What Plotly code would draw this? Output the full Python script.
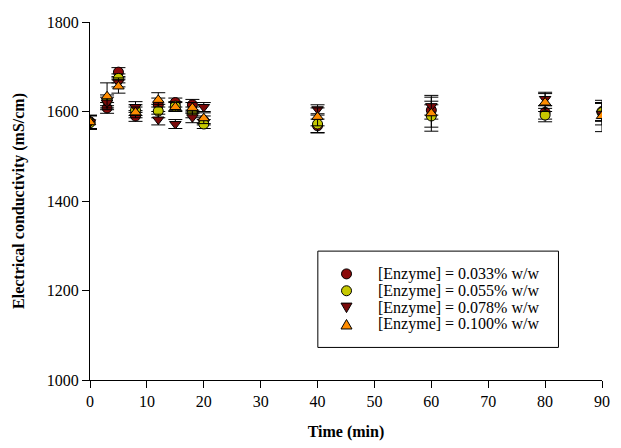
import plotly.graph_objects as go

time_min = [0, 3, 5, 8, 12, 15, 18, 20, 40, 60, 80, 90]

names = ["[Enzyme] = 0.033% w/w", "[Enzyme] = 0.055% w/w",
         "[Enzyme] = 0.078% w/w", "[Enzyme] = 0.100% w/w"]

ec_033 = [1577, 1608, 1688, 1590, 1615, 1620, 1615, 1580, 1568, 1603, 1598, 1600]
ec_055 = [1575, 1625, 1674, 1603, 1601, 1612, 1598, 1572, 1572, 1590, 1592, 1598]
ec_078 = [1576, 1620, 1665, 1610, 1582, 1572, 1587, 1610, 1605, 1612, 1628, 1595]
ec_100 = [1576, 1634, 1656, 1598, 1626, 1610, 1608, 1585, 1588, 1596, 1620, 1590]

err_033 = [15, 12, 10, 12, 15, 10, 12, 10, 15, 20, 15, 20]
err_055 = [15, 12, 10, 12, 15, 10, 12, 10, 20, 25, 15, 20]
err_078 = [15, 12, 10, 12, 12, 10, 12, 10, 10, 20, 15, 25]
err_100 = [15, 30, 15, 12, 16, 10, 12, 12, 20, 40, 20, 35]

series = [ec_033, ec_055, ec_078, ec_100]
errors = [err_033, err_055, err_078, err_100]
symbols = ["circle", "circle", "triangle-down", "triangle-up"]
colors = ["#8B0A0A", "#C6C800", "#7A0A0A", "#FF8C00"]

font_family = "Liberation Serif, Times New Roman, serif"

fig = go.Figure()
for nm, ys, es, sym, col in zip(names, series, errors, symbols, colors):
    fig.add_trace(go.Scatter(
        x=time_min, y=ys, name=nm, mode="markers", showlegend=False,
        marker=dict(symbol=sym, color=col, size=10, line=dict(color="black", width=1)),
        error_y=dict(type="data", array=es, visible=True, color="black", thickness=1, width=7),
    ))

# Legend drawn as a box with marker glyphs and text labels (paper coordinates)
leg_x0, leg_x1, leg_y0, leg_y1 = 0.445, 0.915, 0.091, 0.36
leg_marker_x = 0.501
leg_text_x = 0.559
leg_rows = [0.2964, 0.2493, 0.2022, 0.1551]
glyph_paths = {
    "triangle-down": "M -5.5,4.5 L 5.5,4.5 L 0,-5 Z",
    "triangle-up": "M -5.5,-4.5 L 5.5,-4.5 L 0,5 Z",
}
shapes = [dict(type="rect", xref="paper", yref="paper",
               x0=leg_x0, x1=leg_x1, y0=leg_y0, y1=leg_y1,
               line=dict(color="black", width=1), fillcolor="white", layer="above")]
annotations = []
for nm, sym, col, ry in zip(names, symbols, colors, leg_rows):
    if sym == "circle":
        shapes.append(dict(type="circle", xref="paper", yref="paper",
                           xsizemode="pixel", ysizemode="pixel",
                           xanchor=leg_marker_x, yanchor=ry,
                           x0=-5, x1=5, y0=-5, y1=5,
                           fillcolor=col, line=dict(color="black", width=1), layer="above"))
    else:
        shapes.append(dict(type="path", xref="paper", yref="paper",
                           xsizemode="pixel", ysizemode="pixel",
                           xanchor=leg_marker_x, yanchor=ry,
                           path=glyph_paths[sym],
                           fillcolor=col, line=dict(color="black", width=1), layer="above"))
    annotations.append(dict(xref="paper", yref="paper", x=leg_text_x, y=ry,
                            xanchor="left", yanchor="middle", showarrow=False,
                            text=nm, font=dict(size=16, family=font_family, color="black")))

fig.update_layout(
    width=621, height=448,
    margin=dict(l=90, r=11, t=22, b=65),
    paper_bgcolor="white", plot_bgcolor="white",
    font=dict(family=font_family, size=16, color="black"),
    showlegend=False,
    shapes=shapes,
    annotations=annotations,
    xaxis=dict(range=[0, 90], tickmode="linear", tick0=0, dtick=10,
               showline=True, linecolor="black", linewidth=1,
               ticks="outside", ticklen=7, tickcolor="black",
               showgrid=False, zeroline=False,
               title=dict(text="<b>Time (min)</b>", font=dict(size=16), standoff=16)),
    yaxis=dict(range=[1000, 1800], tickmode="linear", tick0=1000, dtick=200,
               showline=True, linecolor="black", linewidth=1,
               ticks="outside", ticklen=7, tickcolor="black",
               showgrid=False, zeroline=False,
               title=dict(text="<b>Electrical conductivity (mS/cm)</b>", font=dict(size=16), standoff=18)),
)

fig.write_html("out.html")
